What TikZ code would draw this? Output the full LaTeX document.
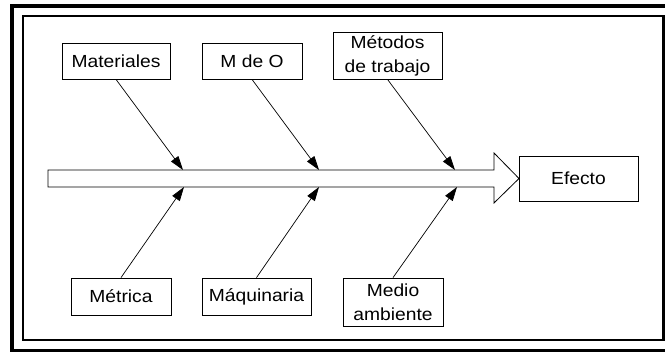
\documentclass[tikz,border=0pt]{standalone}
\usepackage{fontspec}
\setmainfont{Liberation Sans}[FakeStretch=1.1]
\usetikzlibrary{arrows.meta}
\begin{document}
\begin{tikzpicture}[>={Triangle[length=14pt,width=9pt]},x=1pt,y=-1pt,
	caja/.style={draw,line width=0.8pt,inner sep=0pt,align=center,font=\fontsize{17.5}{24}\selectfont}]
	\useasboundingbox (0,0) rectangle (665,352);
	% marcos
	\draw[line width=4.5pt] (12,6) rectangle (680,351.5);
	\draw[line width=2.5pt] (23,16) rectangle (663.5,340);
	% espina
	\draw[line width=0.8pt,fill=white] (48,170) -- (494,170) -- (494,153) -- (519,178.5)
		-- (494,203) -- (494,187) -- (48,187) -- cycle;
	\coordinate (a1) at (183,170);
	\coordinate (a2) at (319,170);
	\coordinate (a3) at (455,170);
	\coordinate (b1) at (184,187);
	\coordinate (b2) at (319,187);
	\coordinate (b3) at (457,187);
	% causas
	\node[caja,minimum width=108pt,minimum height=36pt] (mat) at (116,61) {Materiales};
	\node[caja,minimum width=100pt,minimum height=36pt] (mdo) at (252,61) {M de O};
	\node[caja,minimum width=109pt,minimum height=47pt] (met) at (387.5,55.5) {Métodos\\de trabajo};
	\node[caja,minimum width=100pt,minimum height=37pt] (mtr) at (121,296.5) {Métrica};
	\node[caja,minimum width=109pt,minimum height=37pt] (maq) at (256.5,296.5) {Máquinaria};
	\node[caja,minimum width=100pt,minimum height=48pt] (med) at (393,302) {Medio\\ambiente};
	\node[caja,minimum width=119pt,minimum height=45pt] (efe) at (578.5,178.5) {Efecto};
	% flechas
	\draw[->,line width=0.7pt] (mat.south) -- (a1);
	\draw[->,line width=0.7pt] (mdo.south) -- (a2);
	\draw[->,line width=0.7pt] (met.south) -- (a3);
	\draw[->,line width=0.7pt] (mtr.north) -- (b1);
	\draw[->,line width=0.7pt] (maq.north) -- (b2);
	\draw[->,line width=0.7pt] (med.north) -- (b3);
\end{tikzpicture}
\end{document}
